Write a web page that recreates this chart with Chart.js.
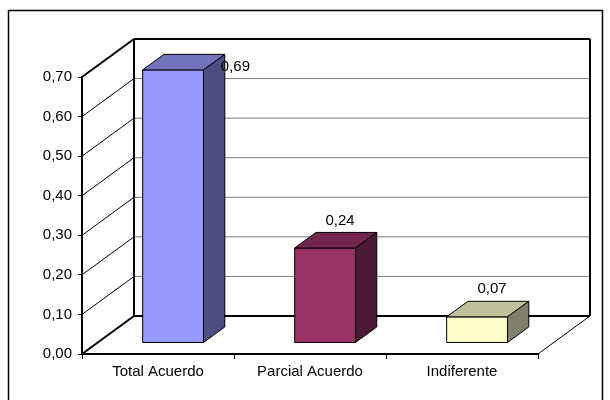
<!DOCTYPE html>
<html>
<head>
<meta charset="utf-8">
<script src="https://cdn.jsdelivr.net/npm/chart.js@4.4.0/dist/chart.umd.min.js"></script>
<style>
  html, body { margin: 0; padding: 0; background: #fff; }
</style>
</head>
<body>
<canvas id="chart" width="610" height="400"></canvas>
<script>
// data
const categories = ["Total Acuerdo", "Parcial Acuerdo", "Indiferente"];
const values = [0.69, 0.24, 0.066];
const yTicks = [0, 0.1, 0.2, 0.3, 0.4, 0.5, 0.6, 0.7];

// colours: front, top and side faces of each box
const frontColors = ["#9999FF", "#993366", "#FFFFCC"];
const topColors = ["#7373BF", "#73264D", "#BFBF99"];
const sideColors = ["#4D4D80", "#4D1A33", "#80806B"];

const FONT = { family: "Liberation Sans", size: 15 };
const DX = 52, DY = 38;            // depth of the 3d frame
const NEAR = 0.29, FAR = 0.70;     // where the boxes sit inside that depth

const fmt = v => v.toFixed(2).replace(".", ",");

function line(ctx, x0, y0, x1, y1, color, width) {
  ctx.beginPath();
  ctx.moveTo(x0, y0);
  ctx.lineTo(x1, y1);
  ctx.strokeStyle = color;
  ctx.lineWidth = width;
  ctx.stroke();
}

function poly(ctx, pts, fill) {
  ctx.beginPath();
  pts.forEach((p, i) => i ? ctx.lineTo(p[0], p[1]) : ctx.moveTo(p[0], p[1]));
  ctx.closePath();
  ctx.fillStyle = fill;
  ctx.fill();
  ctx.strokeStyle = "#000";
  ctx.lineWidth = 1;
  ctx.stroke();
}

const frame3d = {
  id: "frame3d",
  beforeDraw(chart) {
    const ctx = chart.ctx;
    ctx.save();
    ctx.fillStyle = "#fff";
    ctx.fillRect(0, 0, chart.width, chart.height);
    ctx.strokeStyle = "#000";
    ctx.lineWidth = 1.5;
    ctx.strokeRect(8.5, 10.5, 594, 400);
    ctx.restore();
  },
  beforeDatasetsDraw(chart) {
    const { ctx, chartArea: a, scales: { y } } = chart;
    ctx.save();

    // back wall gridlines + side wall diagonals
    yTicks.forEach(t => {
      const py = y.getPixelForValue(t);
      if (t > 0) line(ctx, a.left + DX, py - DY, a.right + DX, py - DY, "#808080", 1);
      const edge = t === 0 || t === yTicks[yTicks.length - 1];
      line(ctx, a.left, py, a.left + DX, py - DY, "#000", edge ? 2 : 1);
    });

    // back wall outline and floor
    const bl = a.left + DX, br = a.right + DX, bt = a.top - DY, bb = a.bottom - DY;
    line(ctx, bl, bt, br, bt, "#000", 2);
    line(ctx, br, bt, br, bb, "#000", 2);
    line(ctx, bl, bt, bl, bb, "#000", 2);
    line(ctx, bl, bb, br, bb, "#000", 2);
    line(ctx, a.right, a.bottom, br, bb, "#000", 1);

    // boxes
    const meta = chart.getDatasetMeta(0);
    const ddx = DX * (FAR - NEAR), ddy = DY * (FAR - NEAR);
    meta.data.forEach((el, i) => {
      const x0 = el.x - el.width / 2 + DX * NEAR;
      const x1 = x0 + el.width;
      const yt = el.y - DY * NEAR;
      const yb = el.base - DY * NEAR;
      poly(ctx, [[x0, yt], [x1, yt], [x1, yb], [x0, yb]], frontColors[i]);
      poly(ctx, [[x0, yt], [x1, yt], [x1 + ddx, yt - ddy], [x0 + ddx, yt - ddy]], topColors[i]);
      poly(ctx, [[x1, yt], [x1 + ddx, yt - ddy], [x1 + ddx, yb - ddy], [x1, yb]], sideColors[i]);

      // value label
      ctx.font = FONT.size + "px " + FONT.family;
      ctx.fillStyle = "#000";
      ctx.textBaseline = "middle";
      const ly = yt - ddy - 12;
      if (ly - 8 < bt) {
        // no room above the wall top: put it beside the box
        ctx.textAlign = "left";
        ctx.fillText(fmt(values[i]), x1 + ddx - 4, yt - 3);
      } else {
        ctx.textAlign = "center";
        ctx.fillText(fmt(values[i]), (x0 + x1) / 2 + ddx * 0.7, ly);
      }
    });

    ctx.restore();
    return false;
  }
};

new Chart(document.getElementById("chart"), {
  type: "bar",
  data: {
    labels: categories,
    datasets: [{
      data: values,
      backgroundColor: frontColors,
      categoryPercentage: 1,
      barPercentage: 0.4
    }]
  },
  options: {
    responsive: false,
    animation: false,
    layout: { padding: { left: 0, right: 72, top: 77, bottom: 0 } },
    plugins: { legend: { display: false }, tooltip: { enabled: false } },
    scales: {
      x: {
        grid: { drawOnChartArea: false, offset: true, tickLength: 5, color: "#000", lineWidth: 1 },
        border: { color: "#000", width: 2 },
        ticks: { color: "#000", font: FONT, padding: 4, maxRotation: 0 },
        afterFit: s => { s.height = 46; }
      },
      y: {
        min: 0,
        max: 0.7,
        grid: { drawOnChartArea: false, tickLength: 4, color: "#000", lineWidth: 1 },
        border: { color: "#000", width: 2 },
        ticks: { color: "#000", font: FONT, padding: 6, callback: v => fmt(v) },
        afterBuildTicks: s => { s.ticks = yTicks.map(v => ({ value: v })); },
        afterFit: s => { s.width = 82; }
      }
    }
  },
  plugins: [frame3d]
});
</script>
</body>
</html>
